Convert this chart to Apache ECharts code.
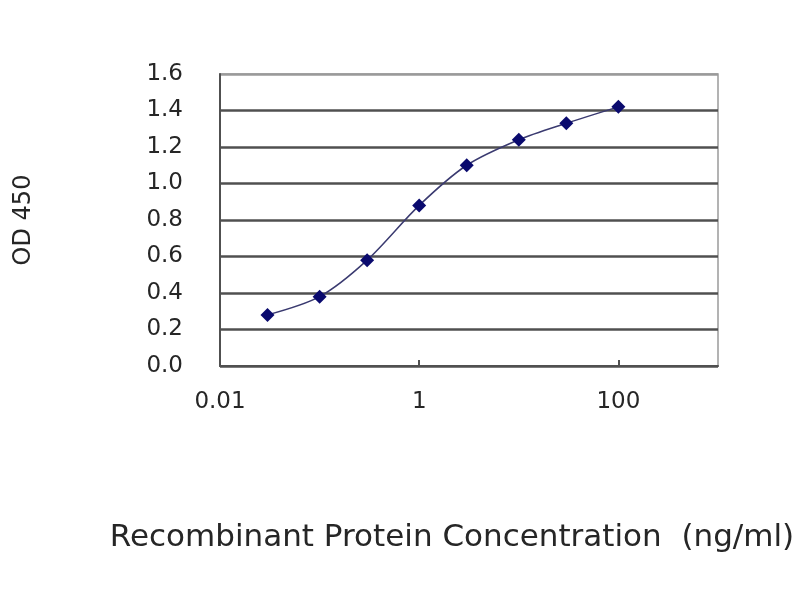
<!DOCTYPE html>
<html>
<head>
<meta charset="utf-8">
<script src="https://cdn.jsdelivr.net/npm/echarts@6/dist/echarts.min.js"></script>
<style>html,body{margin:0;padding:0;background:#fff;}#c{width:800px;height:600px;}</style>
</head>
<body>
<div id="c"></div>
<script>
var concentrations = [0.03, 0.1, 0.3, 1, 3, 10, 30, 100];
var odValues = [0.28, 0.38, 0.58, 0.88, 1.10, 1.24, 1.33, 1.42];
var xTickLabels = ['0.01', '1', '100'];
var xAxisTitle = 'Recombinant Protein Concentration  (ng/ml)';
var yAxisTitle = 'OD 450';

var points = concentrations.map(function (c, i) { return [c, odValues[i]]; });
var tickValues = xTickLabels.map(function (t) { return parseFloat(t); });
var font = 'DejaVu Sans';
var txt = '#262626';
var chart = echarts.init(document.getElementById('c'), null, {renderer: 'canvas'});
chart.setOption({
  animation: false,
  backgroundColor: '#fff',
  grid: {left: 220, right: 82, top: 74, bottom: 234, show: true, borderColor: '#9a9a9a', borderWidth: 1.5, backgroundColor: '#fff'},
  xAxis: {
    type: 'log', logBase: 100, min: 0.01, max: 1000, splitNumber: 2, interval: 1,
    name: xAxisTitle, nameLocation: 'middle', nameGap: 156,
    nameTextStyle: {fontFamily: font, fontSize: 31, color: txt, padding: [0, 34, 0, 0]},
    axisLine: {show: true, lineStyle: {color: '#505050', width: 2}},
    axisTick: {show: true, inside: true, length: 6, customValues: tickValues, lineStyle: {color: '#505050', width: 2}},
    splitLine: {show: false},
    axisLabel: {
      fontFamily: font, fontSize: 23, color: txt, margin: 25,
      formatter: function (v) {
        var s = xTickLabels.filter(function (t) { return Math.abs(parseFloat(t) - v) / v < 1e-6; });
        return s.length ? s[0] : '';
      }
    }
  },
  yAxis: {
    type: 'value', min: 0, max: 1.6, interval: 0.2,
    name: yAxisTitle, nameLocation: 'middle', nameGap: 184, nameRotate: 90,
    nameTextStyle: {fontFamily: font, fontSize: 24, color: txt},
    axisLine: {show: true, lineStyle: {color: '#505050', width: 2}},
    axisTick: {show: false},
    axisLabel: {fontFamily: font, fontSize: 23, color: txt, margin: 37, formatter: function (v) { return v.toFixed(1); }},
    splitLine: {show: true, lineStyle: {color: ['#505050','#505050','#505050','#505050','#505050','#505050','#505050','#505050','#9a9a9a'], width: 2.5}}
  },
  series: [{
    type: 'line', data: points, smooth: 0.3,
    symbol: 'diamond', symbolSize: 14,
    lineStyle: {color: '#3a3a70', width: 1.5},
    itemStyle: {color: '#0a0a6e'}
  }]
});
</script>
</body>
</html>
